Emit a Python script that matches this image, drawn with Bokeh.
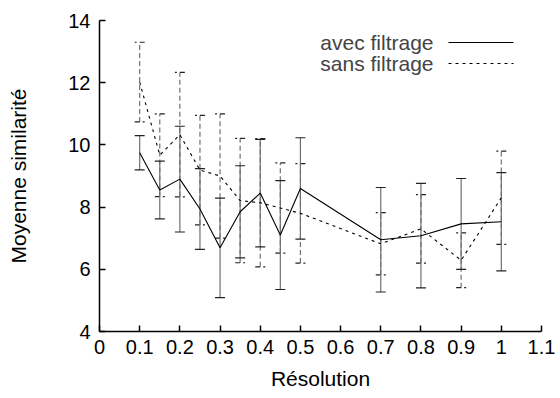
from bokeh.plotting import figure
from bokeh.models import (ColumnDataSource, Whisker, TeeHead, FixedTicker, Label, Arrow)
from bokeh.embed import file_html
from bokeh.resources import INLINE

# ---- data ----
resolution = [0.1, 0.15, 0.2, 0.25, 0.3, 0.35, 0.4, 0.45, 0.5, 0.7, 0.8, 0.9, 1.0]
avec_mean = [9.75, 8.55, 8.9, 7.94, 6.69, 7.85, 8.45, 7.1, 8.6, 6.95, 7.08, 7.46, 7.53]
avec_err = [0.55, 0.93, 1.7, 1.3, 1.6, 1.48, 1.73, 1.75, 1.63, 1.68, 1.68, 1.46, 1.58]
sans_mean = [12.02, 9.67, 10.33, 9.19, 9.0, 8.21, 8.14, 7.97, 7.8, 6.82, 7.3, 6.29, 8.3]
sans_err = [1.28, 1.33, 2.0, 1.76, 2.0, 2.0, 2.06, 1.45, 1.6, 1.0, 1.1, 0.88, 1.5]

x_ticks = [0, 0.1, 0.2, 0.3, 0.4, 0.5, 0.6, 0.7, 0.8, 0.9, 1.0, 1.1]
x_tick_labels = ["0", "0.1", "0.2", "0.3", "0.4", "0.5", "0.6", "0.7", "0.8", "0.9", "1", "1.1"]
y_ticks = [4, 6, 8, 10, 12, 14]
series_labels = ["avec filtrage", "sans filtrage"]
x_title = "Résolution"
y_title = "Moyenne similarité"

FONT = "Liberation Sans"
FS_TICK = "20px"
FS_LAB = "21px"

src_avec = ColumnDataSource(dict(
    x=resolution, y=avec_mean,
    lo=[m - e for m, e in zip(avec_mean, avec_err)],
    hi=[m + e for m, e in zip(avec_mean, avec_err)]))
src_sans = ColumnDataSource(dict(
    x=resolution, y=sans_mean,
    lo=[m - e for m, e in zip(sans_mean, sans_err)],
    hi=[m + e for m, e in zip(sans_mean, sans_err)]))

p = figure(width=556, height=392, x_range=(0, 1.1), y_range=(4, 14),
           output_backend="svg", toolbar_location=None,
           min_border_left=99, min_border_right=15, min_border_top=20,
           min_border_bottom=58)
p.outline_line_color = None
p.xgrid.visible = False
p.ygrid.visible = False
p.background_fill_color = "white"

# error bars
for src, dash in ((src_sans, "5 3"), (src_avec, "solid")):
    w = Whisker(source=src, base="x", lower="lo", upper="hi",
                line_color="#707070", line_width=1.2, line_dash=dash,
                upper_head=TeeHead(size=10, line_color="#222222", line_width=1.2, line_dash=dash),
                lower_head=TeeHead(size=10, line_color="#222222", line_width=1.2, line_dash=dash))
    p.add_layout(w)

p.line("x", "y", source=src_avec, line_color="black", line_width=1.1)
p.line("x", "y", source=src_sans, line_color="black", line_width=1.1, line_dash="3 4")

# axes
for ax in (p.xaxis[0], p.yaxis[0]):
    ax.axis_line_width = 1.5
    ax.axis_line_color = "black"
    ax.major_tick_in = 6
    ax.major_tick_out = 0
    ax.major_tick_line_width = 1.5
    ax.minor_tick_line_color = None
    ax.major_label_text_font = FONT
    ax.major_label_text_font_size = FS_TICK
    ax.major_label_text_color = "black"
    ax.axis_label_text_font = FONT
    ax.axis_label_text_font_size = FS_LAB
    ax.axis_label_text_font_style = "normal"
    ax.axis_label_text_color = "black"

p.xaxis[0].ticker = FixedTicker(ticks=x_ticks)
p.xaxis[0].major_label_overrides = {t: l for t, l in zip(x_ticks, x_tick_labels)}
p.yaxis[0].ticker = FixedTicker(ticks=y_ticks)
p.xaxis[0].axis_label = x_title
p.yaxis[0].axis_label = y_title
p.xaxis[0].major_label_standoff = 8
p.yaxis[0].major_label_standoff = 9
p.xaxis[0].axis_label_standoff = 10
p.yaxis[0].axis_label_standoff = 35

# custom legend (label on the left, sample on the right); screen units relative to frame
rows = [(289, "solid"), (268, "3 4")]
for lab, (ys, dash) in zip(series_labels, rows):
    p.add_layout(Label(x=334, y=ys, x_units="screen", y_units="screen", text=lab,
                       text_align="right", text_baseline="middle", text_font=FONT,
                       text_font_size=FS_LAB))
    p.add_layout(Arrow(x_start=349, y_start=ys, x_end=414, y_end=ys,
                       start_units="screen", end_units="screen", start=None, end=None,
                       line_color="black", line_width=1.1, line_dash=dash))

open("out.html", "w").write(file_html(p, INLINE))
